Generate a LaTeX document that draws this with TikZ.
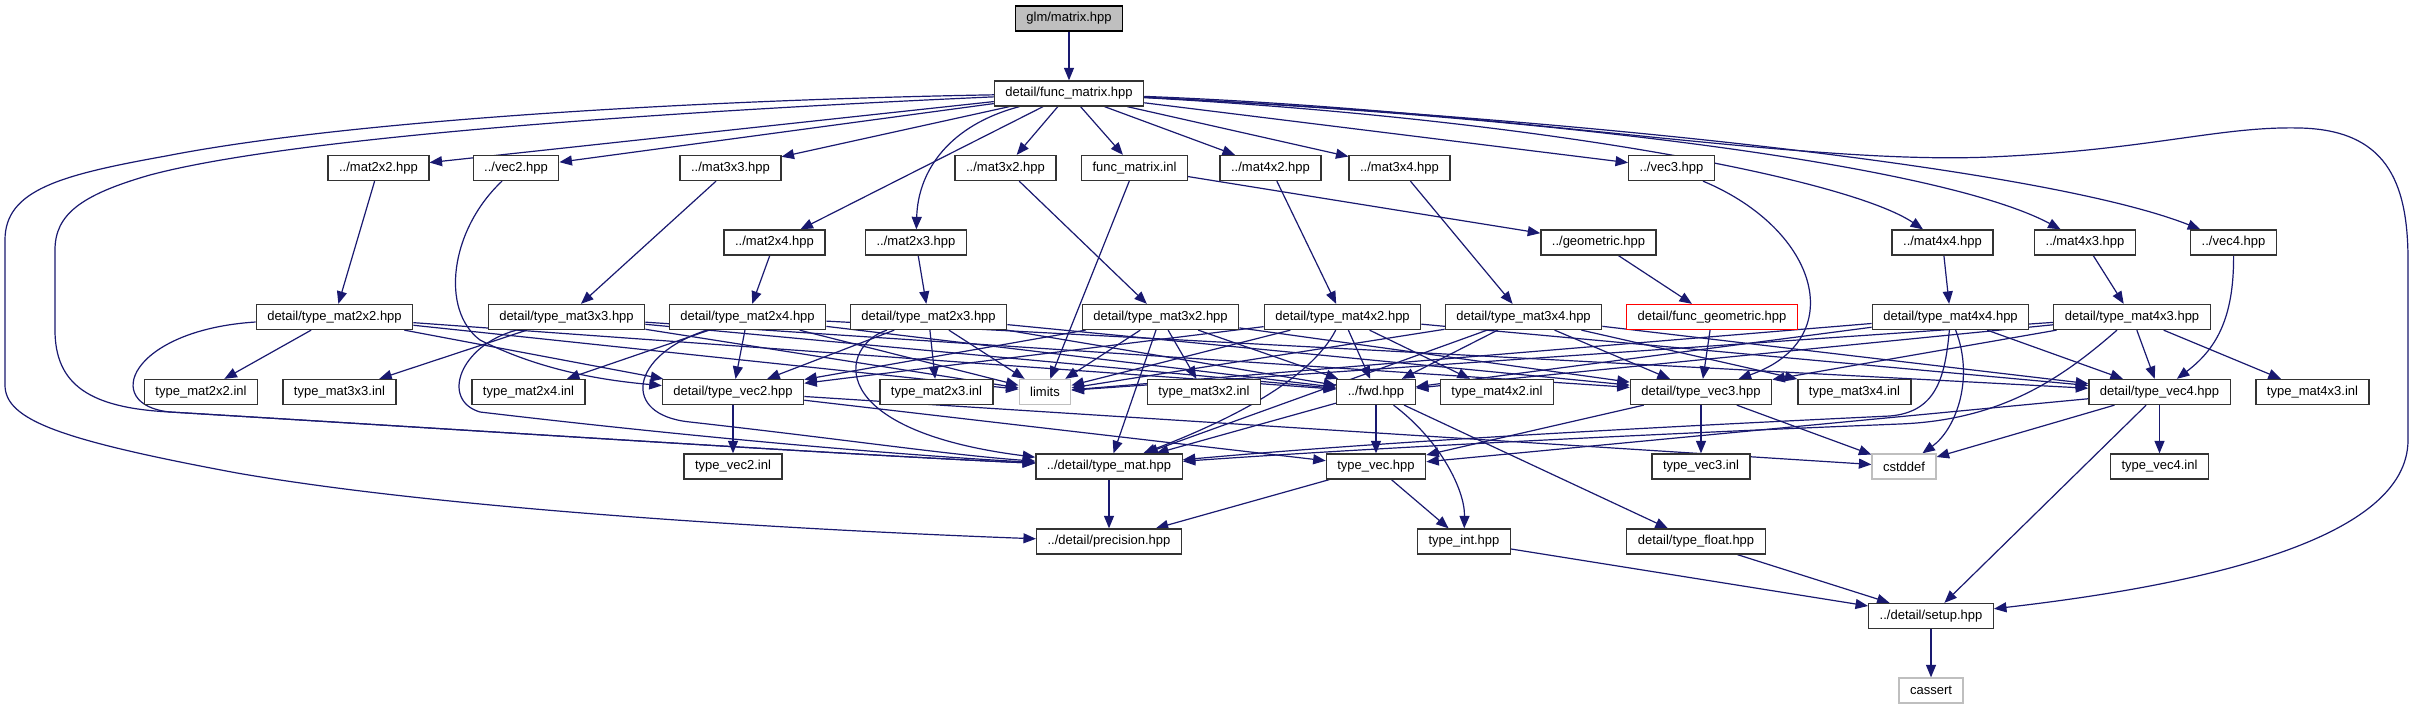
\documentclass[tikz,border=0pt]{standalone}
\usepackage{fontspec}
\setmainfont{Liberation Sans}
\usepackage{xcolor}
\usetikzlibrary{arrows.meta,backgrounds}
\definecolor{depblue}{HTML}{191970}
\definecolor{boxgray}{HTML}{BFBFBF}

\begin{document}
\begin{tikzpicture}[x=1pt,y=-1pt,font=\fontsize{13}{15}\selectfont,
  box/.style={draw=black!80,fill=white,line width=1.3pt,minimum height=25pt,inner xsep=11pt,inner ysep=0pt},
  root/.style={box,draw=black,fill=boxgray},
  sys/.style={box,draw=boxgray},
  miss/.style={box,draw=red},
  dep/.style={draw=depblue,line width=1.2pt,-{Triangle[length=12.5pt,width=10pt]}}]
\useasboundingbox (0,0) rectangle (2413,709);
\node[root] (matrix) at (1069,18.5) {glm/matrix.hpp};
\node[box] (funcmat) at (1069,93.5) {detail/func\_matrix.hpp};
\node[box] (m22) at (378.5,168) {../mat2x2.hpp};
\node[box] (v2) at (516,168) {../vec2.hpp};
\node[box] (m33) at (730.5,168) {../mat3x3.hpp};
\node[box] (m32) at (1005.5,168) {../mat3x2.hpp};
\node[box] (fminl) at (1134.5,168) {func\_matrix.inl};
\node[box] (m42) at (1270.5,168) {../mat4x2.hpp};
\node[box] (m34) at (1399.5,168) {../mat3x4.hpp};
\node[box] (v3) at (1671.5,168) {../vec3.hpp};
\node[box] (m24) at (774.5,242.5) {../mat2x4.hpp};
\node[box] (m23) at (916,242.5) {../mat2x3.hpp};
\node[box] (geom) at (1598.5,242.5) {../geometric.hpp};
\node[box] (m44) at (1942.5,242.5) {../mat4x4.hpp};
\node[box] (m43) at (2085,242.5) {../mat4x3.hpp};
\node[box] (v4) at (2233.5,242.5) {../vec4.hpp};
\node[box] (tm22) at (334.5,317) {detail/type\_mat2x2.hpp};
\node[box] (tm33) at (566.5,317) {detail/type\_mat3x3.hpp};
\node[box] (tm24) at (747.5,317) {detail/type\_mat2x4.hpp};
\node[box] (tm23) at (928.5,317) {detail/type\_mat2x3.hpp};
\node[box] (tm32) at (1160.5,317) {detail/type\_mat3x2.hpp};
\node[box] (tm42) at (1342.5,317) {detail/type\_mat4x2.hpp};
\node[box] (tm34) at (1523.5,317) {detail/type\_mat3x4.hpp};
\node[miss] (fgeom) at (1712,317) {detail/func\_geometric.hpp};
\node[box] (tm44) at (1950.5,317) {detail/type\_mat4x4.hpp};
\node[box] (tm43) at (2132,317) {detail/type\_mat4x3.hpp};
\node[box] (im22) at (201,392) {type\_mat2x2.inl};
\node[box] (im33) at (339.5,392) {type\_mat3x3.inl};
\node[box] (im24) at (528.5,392) {type\_mat2x4.inl};
\node[box] (tv2) at (733,392) {detail/type\_vec2.hpp};
\node[box] (im23) at (936.5,392) {type\_mat2x3.inl};
\node[sys] (limits) at (1045,392) {limits};
\node[box] (im32) at (1204,392) {type\_mat3x2.inl};
\node[box] (fwd) at (1376,392) {../fwd.hpp};
\node[box] (im42) at (1497,392) {type\_mat4x2.inl};
\node[box] (tv3) at (1701,392) {detail/type\_vec3.hpp};
\node[box] (im34) at (1854.5,392) {type\_mat3x4.inl};
\node[box] (tv4) at (2159.5,392) {detail/type\_vec4.hpp};
\node[box] (im43) at (2312.5,392) {type\_mat4x3.inl};
\node[box] (iv2) at (733,466.5) {type\_vec2.inl};
\node[box] (tmat) at (1109,466.5) {../detail/type\_mat.hpp};
\node[box] (tvec) at (1376,466.5) {type\_vec.hpp};
\node[box] (iv3) at (1701,466.5) {type\_vec3.inl};
\node[sys] (cstddef) at (1904,466.5) {cstddef};
\node[box] (iv4) at (2159.5,466.5) {type\_vec4.inl};
\node[box] (prec) at (1109,541.5) {../detail/precision.hpp};
\node[box] (tint) at (1464,541.5) {type\_int.hpp};
\node[box] (tfloat) at (1696,541.5) {detail/type\_float.hpp};
\node[box] (setup) at (1931,616) {../detail/setup.hpp};
\node[sys] (cassert) at (1931,690.5) {cassert};
\begin{scope}[on background layer]
\fill[white] (0,0) rectangle (2413,709);
\draw[dep] (matrix) -- (funcmat);
\draw[dep] (funcmat) -- (m22);
\draw[dep] (funcmat) -- (v2);
\draw[dep] (funcmat) -- (m33);
\draw[dep] (funcmat) -- (m32);
\draw[dep] (funcmat) -- (fminl);
\draw[dep] (funcmat) -- (m42);
\draw[dep] (funcmat) -- (m34);
\draw[dep] (funcmat) -- (v3);
\draw[dep] (funcmat) -- (m24);
\draw[dep] (funcmat) .. controls (950,125) and (918,170) .. (m23);
\draw[dep] (funcmat) .. controls (1550,120) and (1850,180) .. (m44);
\draw[dep] (funcmat) .. controls (1600,120) and (1950,170) .. (m43);
\draw[dep] (funcmat) .. controls (1600,120) and (2050,170) .. (v4);
\draw[dep] (funcmat) .. controls (700,100) and (350,120) .. (166,156) .. controls (60,175) and (5,190) .. (5,240)
  -- (5,385) .. controls (5,420) and (60,440) .. (237,473) .. controls (450,510) and (800,530) .. (prec);
\draw[dep] (funcmat) .. controls (700,110) and (300,135) .. (150,175) .. controls (80,195) and (55,215) .. (55,250)
  -- (55,330) .. controls (55,385) and (90,408) .. (170,412) .. controls (500,432) and (850,455) .. (tmat);
\draw[dep] (funcmat) .. controls (1500,110) and (1800,165) .. (1990,157) .. controls (2150,150) and (2220,126) .. (2300,128)
  .. controls (2385,130) and (2408,180) .. (2408,260) -- (2408,440) .. controls (2408,540) and (2200,585) .. (setup);
\draw[dep] (fminl) -- (limits);
\draw[dep] (fminl) -- (geom);
\draw[dep] (m22) -- (tm22);
\draw[dep] (v2) .. controls (450,230) and (440,310) .. (480,340) .. controls (540,370) and (600,380) .. (tv2);
\draw[dep] (m33) -- (tm33);
\draw[dep] (m24) -- (tm24);
\draw[dep] (m23) -- (tm23);
\draw[dep] (m32) -- (tm32);
\draw[dep] (m42) -- (tm42);
\draw[dep] (m34) -- (tm34);
\draw[dep] (geom) -- (fgeom);
\draw[dep] (v3) .. controls (1820,230) and (1850,340) .. (tv3);
\draw[dep] (m44) -- (tm44);
\draw[dep] (m43) -- (tm43);
\draw[dep] (v4) .. controls (2234,320) and (2215,350) .. (tv4);
\draw[dep] (fgeom) -- (tv3);
\draw[dep] (tm22) -- (im22);
\draw[dep] (tm22) -- (tv2);
\draw[dep] (tm22) -- (fwd);
\draw[dep] (tm22) -- (limits);
\draw[dep] (tm22) .. controls (130,330) and (100,405) .. (170,412) .. controls (500,432) and (850,455) .. (tmat);
\draw[dep] (tm33) -- (im33);
\draw[dep] (tm33) -- (tv3);
\draw[dep] (tm33) -- (fwd);
\draw[dep] (tm33) -- (limits);
\draw[dep] (tm33) .. controls (460,345) and (440,400) .. (480,412) .. controls (700,438) and (900,455) .. (tmat);
\draw[dep] (tm24) -- (im24);
\draw[dep] (tm24) -- (tv2);
\draw[dep] (tm24) -- (tv4);
\draw[dep] (tm24) -- (fwd);
\draw[dep] (tm24) -- (limits);
\draw[dep] (tm24) .. controls (630,355) and (620,415) .. (690,422) .. controls (850,440) and (950,455) .. (tmat);
\draw[dep] (tm23) -- (im23);
\draw[dep] (tm23) -- (tv2);
\draw[dep] (tm23) -- (tv3);
\draw[dep] (tm23) -- (fwd);
\draw[dep] (tm23) -- (limits);
\draw[dep] (tm23) .. controls (840,345) and (820,430) .. (tmat);
\draw[dep] (tm32) -- (im32);
\draw[dep] (tm32) -- (tv2);
\draw[dep] (tm32) -- (tv3);
\draw[dep] (tm32) -- (fwd);
\draw[dep] (tm32) -- (limits);
\draw[dep] (tm32) -- (tmat);
\draw[dep] (tm42) -- (im42);
\draw[dep] (tm42) -- (tv2);
\draw[dep] (tm42) -- (tv4);
\draw[dep] (tm42) -- (fwd);
\draw[dep] (tm42) -- (limits);
\draw[dep] (tm42) .. controls (1310,380) and (1230,420) .. (tmat);
\draw[dep] (tm34) -- (im34);
\draw[dep] (tm34) -- (tv3);
\draw[dep] (tm34) -- (tv4);
\draw[dep] (tm34) -- (fwd);
\draw[dep] (tm34) -- (limits);
\draw[dep] (tm34) -- (tmat);
\draw[dep] (tm44) -- (tv4);
\draw[dep] (tm44) -- (fwd);
\draw[dep] (tm44) -- (limits);
\draw[dep] (tm44) .. controls (1975,380) and (1955,430) .. (cstddef);
\draw[dep] (tm44) .. controls (1945,380) and (1935,412) .. (1890,416) .. controls (1700,425) and (1400,440) .. (tmat);
\draw[dep] (tm43) -- (im43);
\draw[dep] (tm43) -- (tv3);
\draw[dep] (tm43) -- (tv4);
\draw[dep] (tm43) -- (fwd);
\draw[dep] (tm43) -- (limits);
\draw[dep] (tm43) .. controls (2060,380) and (2000,420) .. (1900,424) .. controls (1700,432) and (1400,446) .. (tmat);
\draw[dep] (tv2) -- (iv2);
\draw[dep] (tv2) -- (tvec);
\draw[dep] (tv2) -- (cstddef);
\draw[dep] (tv3) -- (iv3);
\draw[dep] (tv3) -- (tvec);
\draw[dep] (tv3) -- (cstddef);
\draw[dep] (tv4) -- (iv4);
\draw[dep] (tv4) -- (tvec);
\draw[dep] (tv4) -- (cstddef);
\draw[dep] (tv4) -- (setup);
\draw[dep] (fwd) -- (tvec);
\draw[dep] (fwd) .. controls (1440,440) and (1465,490) .. (tint);
\draw[dep] (fwd) -- (tfloat);
\draw[dep] (fwd) -- (tmat);
\draw[dep] (tvec) -- (tint);
\draw[dep] (tvec) -- (prec);
\draw[dep] (tmat) -- (prec);
\draw[dep] (tint) -- (setup);
\draw[dep] (tfloat) -- (setup);
\draw[dep] (setup) -- (cassert);
\end{scope}
\end{tikzpicture}
\end{document}
